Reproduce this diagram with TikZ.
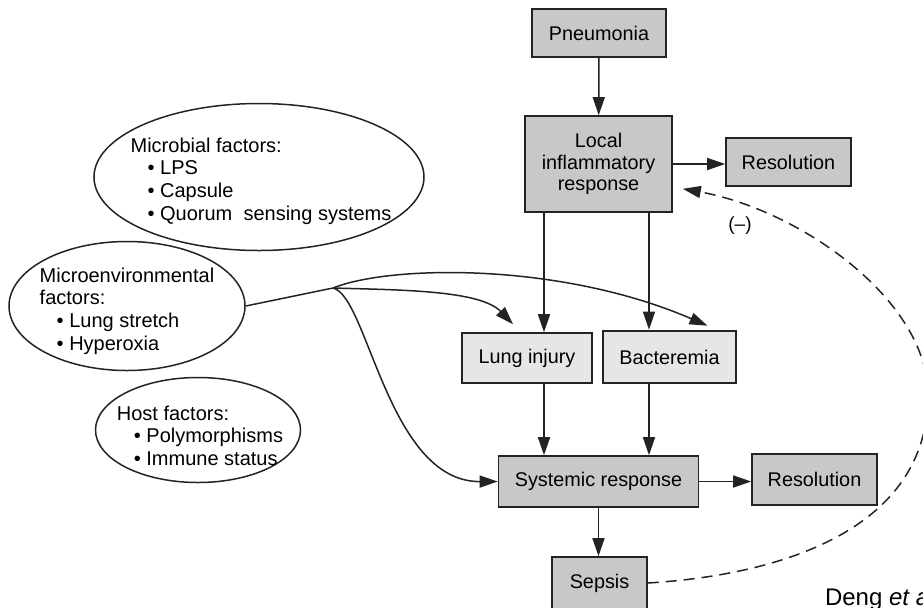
\documentclass[tikz,border=0pt]{standalone}
\usepackage{fontspec}
\setmainfont{Liberation Sans}
\usetikzlibrary{arrows.meta,shapes.geometric,calc}

\definecolor{boxgray}{RGB}{200,200,200}
\definecolor{palegray}{RGB}{230,230,230}
\definecolor{inkgray}{RGB}{35,35,35}

\tikzset{
  stage/.style={draw=inkgray, line width=0.8pt, fill=boxgray, align=center,
    inner sep=0pt, font=\fontsize{9.9}{10.8}\selectfont},
  result/.style={stage, fill=palegray},
  factor/.style={draw=inkgray, ellipse, line width=0.75pt, inner sep=0pt},
  factortext/.style={align=left, inner sep=0pt, font=\fontsize{10}{11.3}\selectfont},
  flow/.style={line width=0.75pt, draw=inkgray, -{Triangle[length=9pt,width=6pt]}},
  feedback/.style={flow, dash pattern=on 5.5pt off 3.5pt},
}
\def\bul{\hspace*{8.5pt}\textbullet~}

\begin{document}
\begin{tikzpicture}[x=0.5pt,y=-0.5pt]
  \useasboundingbox (0,0) rectangle (923,607);

  % course of the infection
  \node[stage, minimum width=67pt, minimum height=24pt] (pneu) at (599,33) {Pneumonia};
  \node[stage, minimum width=73.5pt, minimum height=48pt] (local) at (598.5,164) {Local\\inflammatory\\response};
  \node[stage, minimum width=62.5pt, minimum height=24pt] (resA) at (788.5,162) {Resolution};
  \node[result, minimum width=65pt, minimum height=25pt] (lung) at (527,358) {Lung injury};
  \node[result, line width=1.3pt, minimum width=66.5pt, minimum height=26pt] (bact) at (669.5,357) {Bacteremia};
  \node[stage, minimum width=100pt, minimum height=25.5pt] (sys) at (598.5,481.5) {Systemic response};
  \node[stage, minimum width=62.5pt, minimum height=25.5pt] (resB) at (814.5,479.5) {Resolution};
  \node[stage, minimum width=47.5pt, minimum height=26pt] (sepsis) at (599.5,583) {Sepsis};

  \coordinate (colA) at (544,0);
  \coordinate (colB) at (649,0);
  \draw[flow] (pneu) -- (local);
  \draw[flow] (local.east) -- (local.east -| resA.west);
  \draw[flow] (local.south -| colA) -- (lung.north -| colA);
  \draw[flow] (local.south -| colB) -- (bact.north -| colB);
  \draw[flow] (lung.south -| colA) -- (sys.north -| colA);
  \draw[flow] (bact.south -| colB) -- (sys.north -| colB);
  \draw[flow] (sys.east) -- (sys.east -| resB.west);
  \draw[flow] (sys.south) -- (sys.south |- sepsis.north);

  % factors
  \node[factor, minimum width=165pt, minimum height=73.5pt] (microbe) at (259,177) {};
  \node[factortext] at ([xshift=1pt,yshift=-2pt]microbe.center)
    {Microbial factors:\\\bul LPS\\\bul Capsule\\\bul Quorum~~sensing systems};
  \node[factor, minimum width=118pt, minimum height=64.5pt] (micro) at (127,306) {};
  \node[factortext] at ([yshift=-2.5pt]micro.center)
    {Microenvironmental\\factors:\\\bul Lung stretch\\\bul Hyperoxia};
  \node[factor, minimum width=102.5pt, minimum height=52.5pt] (host) at (198,430) {};
  \node[factortext] at ([xshift=1pt,yshift=-2.75pt]host.center)
    {Host factors:\\\bul Polymorphisms\\\bul Immune status};

  \coordinate (split) at (333,288);
  \draw[line width=0.75pt, inkgray] (micro.east) -- (split);
  \draw[flow] (split) .. controls (400,290) and (480,290) .. ([xshift=-7pt,yshift=4pt]lung.north);
  \draw[flow] (split) .. controls (390,265) and (560,262) .. ([xshift=19pt,yshift=2pt]bact.north);
  \draw[flow] (split) .. controls (368,296) and (388,482) .. (sys.west);

  % negative feedback
  \draw[feedback] (sepsis.east) .. controls (780,575) and (928,530) .. (928,395)
    .. controls (928,300) and (800,210) .. ([xshift=5pt,yshift=12pt]local.south east);
  \node[font=\fontsize{9.5}{11}\selectfont] (neg) at (740,226) {(–)};

  \node[anchor=base west, font=\fontsize{12}{14}\selectfont] (cite) at (818,605) {Deng \textit{et al.}};
\end{tikzpicture}
\end{document}
